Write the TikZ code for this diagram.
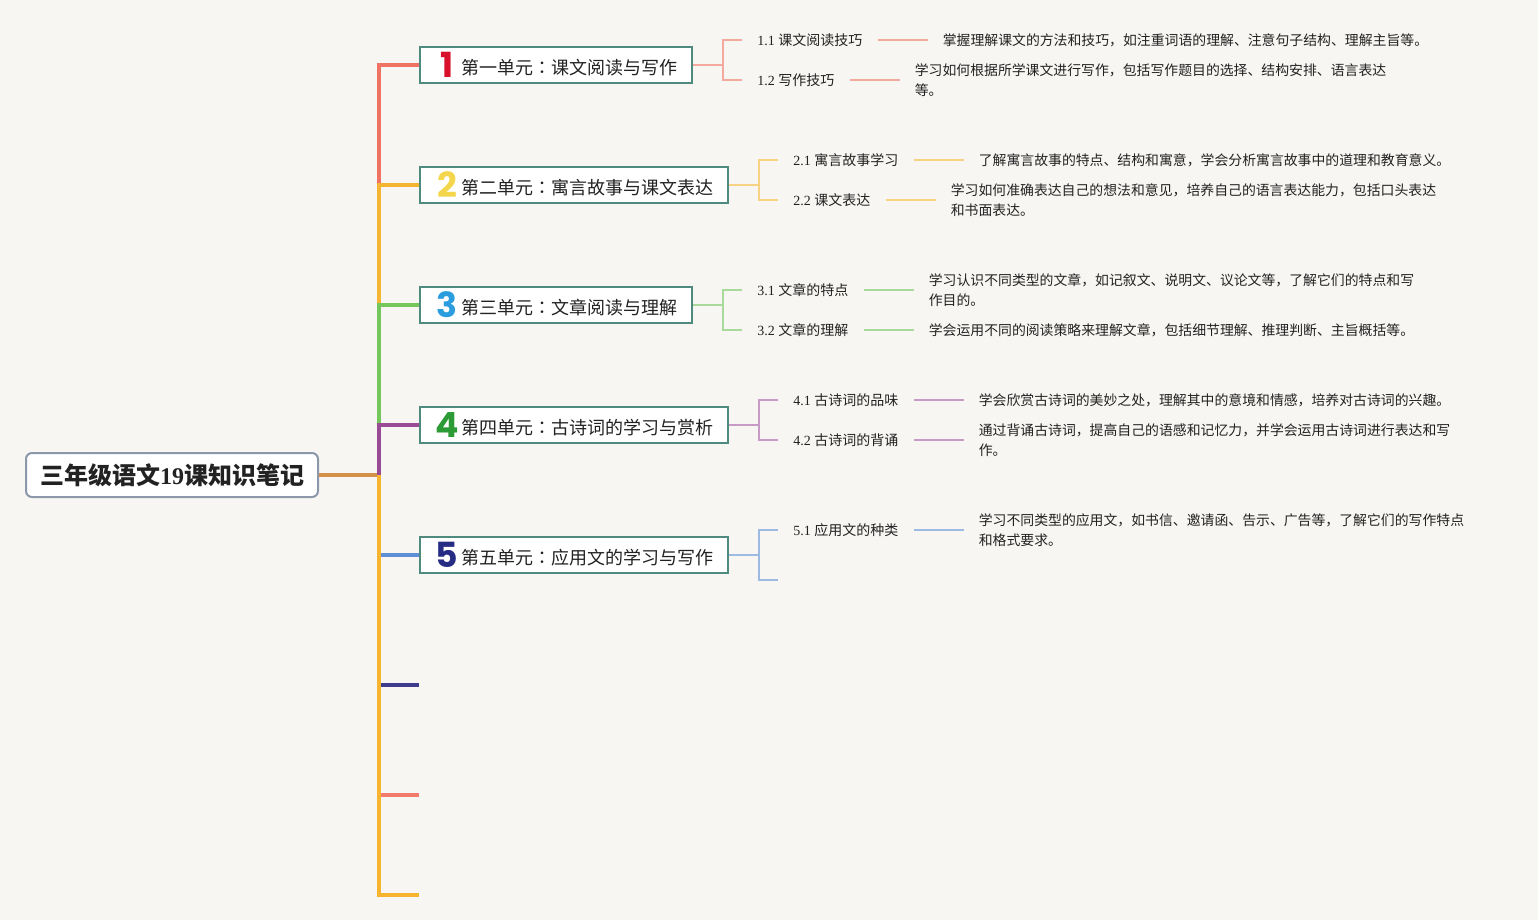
\documentclass[tikz,border=0pt]{standalone}
\usepackage{fontspec}
\setmainfont{Liberation Serif}
\newfontfamily\cjk{Noto Sans CJK SC}
\newfontfamily\cjkc{Noto Sans CJK TC}
\newfontfamily\numf{Poppins}
\usepackage{xcolor}
\usepackage{tikz}
\usetikzlibrary{positioning,calc}
\definecolor{paper}{HTML}{F8F6F3}
\definecolor{rootln}{HTML}{8C97AA}
\definecolor{boxln}{HTML}{4F8A7F}
\definecolor{stem}{HTML}{D4914A}
\definecolor{txt}{HTML}{222222}
\definecolor{ca}{HTML}{F07262}
\definecolor{cb}{HTML}{F5B533}
\definecolor{cc}{HTML}{73C75B}
\definecolor{cd}{HTML}{994B95}
\definecolor{ce}{HTML}{5E8FD6}
\definecolor{cf}{HTML}{3E3A8C}
\definecolor{cg}{HTML}{F27B6B}
\definecolor{ch}{HTML}{F7B52F}
\definecolor{sa}{HTML}{F4A99E}
\definecolor{sb}{HTML}{F8D283}
\definecolor{sc}{HTML}{AAD99C}
\definecolor{sd}{HTML}{C89BC6}
\definecolor{se}{HTML}{9DBAE2}
\definecolor{na}{HTML}{D8102A}
\definecolor{nb}{HTML}{F3D64B}
\definecolor{nc}{HTML}{2B9DDE}
\definecolor{nd}{HTML}{2C9A35}
\definecolor{ne}{HTML}{262C84}
\tikzset{
  root/.style ={draw=rootln, line width=1.5pt, fill=white, rounded corners=4.5pt,
                minimum height=33pt, inner xsep=10.5pt, anchor=west, text=txt,
                font=\fontsize{18pt}{20pt}\selectfont\bfseries},
  unit/.style ={draw=boxln, line width=1.5pt, fill=white, minimum height=27pt,
                inner xsep=11.25pt, inner ysep=0pt, anchor=west, text=txt,
                font=\fontsize{13.5pt}{16pt}\selectfont\cjk},
  subl/.style ={anchor=west, inner sep=0pt, text=txt, font=\fontsize{10.5pt}{15pt}\selectfont},
  desc/.style ={inner sep=0pt, align=left, text=txt, font=\fontsize{10.4pt}{15pt}\selectfont\cjk},
  br/.style   ={line width=2.4pt},
  tw/.style   ={line width=1pt},
  lk/.style   ={tw, shorten <=11.25pt, shorten >=11.25pt},
}
\newcommand\unum[2]{\hspace{2.25pt}\makebox[13.5pt][c]{\numf\bfseries\fontsize{26pt}{26pt}\selectfont\color{#1}#2}\hspace{3.75pt}}
\newcommand\utxt[2]{\raisebox{2.5pt}{#1{\cjkc ：}#2}}

\begin{document}
\begin{tikzpicture}[x=0.75pt,y=-0.75pt]
\useasboundingbox (0,0) rectangle (1538,920);
\fill[paper] (0,0) rectangle (1538,920);
\node[root] (rt) at (25,475) {{\cjk 三年级语文}19{\cjk 课知识笔记}};
\coordinate (hub) at (379,475);
\node[unit] (u1) at (419,65)  {\unum{na}{1}\utxt{第一单元}{课文阅读与写作}};
\node[unit] (u2) at (419,185) {\unum{nb}{2}\utxt{第二单元}{寓言故事与课文表达}};
\node[unit] (u3) at (419,305) {\unum{nc}{3}\utxt{第三单元}{文章阅读与理解}};
\node[unit] (u4) at (419,425) {\unum{nd}{4}\utxt{第四单元}{古诗词的学习与赏析}};
\node[unit] (u5) at (419,555) {\unum{ne}{5}\utxt{第五单元}{应用文的学习与写作}};
\coordinate (e6) at (419,685);
\coordinate (e7) at (419,795);
\coordinate (e8) at (419,895);
\draw[br,stem] (rt.east) -- (hub);
\draw[br,ca] (hub) |- (u1.west);
\draw[br,cb] (hub) |- (u2.west);
\draw[br,cc] (hub) |- (u3.west);
\draw[br,cd] (hub) |- (u4.west);
\draw[br,ce] (hub) |- (u5.west);
\draw[br,cf] (hub) |- (e6);
\draw[br,cg] (hub) |- (e7);
\draw[br,ch] (hub) |- (e8);

\coordinate (k1) at ($(u1.east)+(30,0)$);
\node[subl] (l11) at (757,40) {1.1 {\cjk 课文阅读技巧}};
\node[subl] (l12) at (757,80) {1.2 {\cjk 写作技巧}};
\node[desc, right=60pt of l11] (d11) {掌握理解课文的方法和技巧，如注重词语的理解、注意句子结构、理解主旨等。};
\node[desc, right=60pt of l12] (d12) {学习如何根据所学课文进行写作，包括写作题目的选择、结构安排、语言表达\\等。};
\draw[tw,sa] (u1.east) -- (k1);
\draw[tw,sa] ($(l11.west)+(-15,0)$) -| (k1) |- ($(l12.west)+(-15,0)$);
\draw[lk,sa] (l11.east) -- (d11.west);
\draw[lk,sa] (l12.east) -- (d12.west);

\coordinate (k2) at ($(u2.east)+(30,0)$);
\node[subl] (l21) at (793,160) {2.1 {\cjk 寓言故事学习}};
\node[subl] (l22) at (793,200) {2.2 {\cjk 课文表达}};
\node[desc, right=60pt of l21] (d21) {了解寓言故事的特点、结构和寓意，学会分析寓言故事中的道理和教育意义。};
\node[desc, right=60pt of l22] (d22) {学习如何准确表达自己的想法和意见，培养自己的语言表达能力，包括口头表达\\和书面表达。};
\draw[tw,sb] (u2.east) -- (k2);
\draw[tw,sb] ($(l21.west)+(-15,0)$) -| (k2) |- ($(l22.west)+(-15,0)$);
\draw[lk,sb] (l21.east) -- (d21.west);
\draw[lk,sb] (l22.east) -- (d22.west);

\coordinate (k3) at ($(u3.east)+(30,0)$);
\node[subl] (l31) at (757,290) {3.1 {\cjk 文章的特点}};
\node[subl] (l32) at (757,330) {3.2 {\cjk 文章的理解}};
\node[desc, right=60pt of l31] (d31) {学习认识不同类型的文章，如记叙文、说明文、议论文等，了解它们的特点和写\\作目的。};
\node[desc, right=60pt of l32] (d32) {学会运用不同的阅读策略来理解文章，包括细节理解、推理判断、主旨概括等。};
\draw[tw,sc] (u3.east) -- (k3);
\draw[tw,sc] ($(l31.west)+(-15,0)$) -| (k3) |- ($(l32.west)+(-15,0)$);
\draw[lk,sc] (l31.east) -- (d31.west);
\draw[lk,sc] (l32.east) -- (d32.west);

\coordinate (k4) at ($(u4.east)+(30,0)$);
\node[subl] (l41) at (793,400) {4.1 {\cjk 古诗词的品味}};
\node[subl] (l42) at (793,440) {4.2 {\cjk 古诗词的背诵}};
\node[desc, right=60pt of l41] (d41) {学会欣赏古诗词的美妙之处，理解其中的意境和情感，培养对古诗词的兴趣。};
\node[desc, right=60pt of l42] (d42) {通过背诵古诗词，提高自己的语感和记忆力，并学会运用古诗词进行表达和写\\作。};
\draw[tw,sd] (u4.east) -- (k4);
\draw[tw,sd] ($(l41.west)+(-15,0)$) -| (k4) |- ($(l42.west)+(-15,0)$);
\draw[lk,sd] (l41.east) -- (d41.west);
\draw[lk,sd] (l42.east) -- (d42.west);

\coordinate (k5) at ($(u5.east)+(30,0)$);
\node[subl] (l51) at (793,530) {5.1 {\cjk 应用文的种类}};
\coordinate (t52) at ($(l51.west)+(-15,50)$);
\node[desc, right=60pt of l51] (d51) {学习不同类型的应用文，如书信、邀请函、告示、广告等，了解它们的写作特点\\和格式要求。};
\draw[tw,se] (u5.east) -- (k5);
\draw[tw,se] ($(l51.west)+(-15,0)$) -| (k5) |- (t52);
\draw[lk,se] (l51.east) -- (d51.west);
\end{tikzpicture}
\end{document}
